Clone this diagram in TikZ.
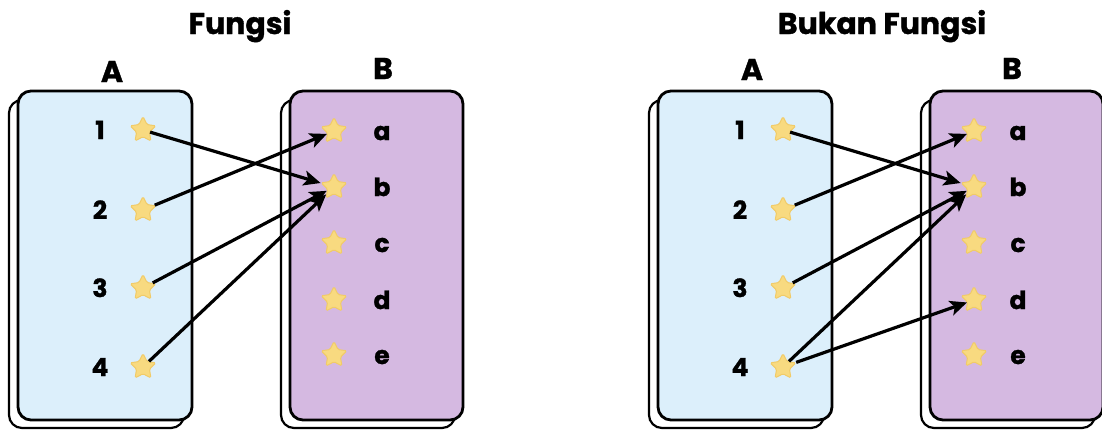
\documentclass[tikz,border=0pt]{standalone}
\usepackage{fontspec}
\setmainfont{Poppins}[BoldFont={* Bold},BoldFeatures={FakeBold=1.2}]
\usetikzlibrary{shapes.geometric,arrows.meta}
\definecolor{setA}{HTML}{DCEFFB}
\definecolor{setB}{HTML}{D5B9E1}
\definecolor{starfill}{HTML}{F8DA80}
\definecolor{staredge}{HTML}{F1CB68}
\tikzset{
  backbox/.style={draw=black,line width=2.2pt,fill=white,rounded corners=13pt},
  frontbox/.style={draw=black,line width=2.8pt,rounded corners=13pt},
  staritem/.style={star,star points=5,star point ratio=2.0,minimum size=27pt,inner sep=0pt,
    fill=starfill,draw=staredge,line width=1pt,rounded corners=1.5pt},
  itemlabel/.style={font=\bfseries\fontsize{25}{25}\selectfont,anchor=base,inner sep=0pt},
  setlabel/.style={font=\bfseries\fontsize{30}{30}\selectfont,anchor=base,inner sep=0pt},
  titlelabel/.style={font=\bfseries\fontsize{30}{30}\selectfont,anchor=base,inner sep=0pt},
  arr/.style={line width=3.2pt,-{Stealth[length=17pt,width=15pt,inset=4pt]}},
}
\begin{document}
\begin{tikzpicture}[x=1pt,y=-1pt]
\useasboundingbox (0,0) rectangle (1102,429);
\fill[white] (0,0) rectangle (1102,429);
\foreach \ox in {0,640}{
  \begin{scope}[xshift=\ox pt]
  \draw[backbox] (9,100) rectangle (184,428);
  \draw[frontbox,fill=setA] (18,91) rectangle (192,420);
  \draw[backbox] (281,100) rectangle (455,428);
  \draw[frontbox,fill=setB] (290,91) rectangle (463,420);
  \end{scope}
}
\node[titlelabel] (t1) at (240,34) {Fungsi};
\node[titlelabel] (t2) at (882,34) {Bukan Fungsi};
\node[setlabel] (lA) at (112,82) {A};
\node[setlabel] (lB) at (383,79) {B};
\node[setlabel] (rA) at (752,80) {A};
\node[setlabel] (rB) at (1012,79) {B};
% items of A
\foreach \i/\y in {1/130,2/210,3/288,4/367}{
  \node[staritem] (La\i) at (143,\y) {};
  \node[itemlabel] (Lna\i) at (100,\y+9) {\i};
  \node[staritem] (Ra\i) at (783,\y) {};
  \node[itemlabel] (Rna\i) at (740,\y+9) {\i};
}
% items of B
\foreach \l/\y in {a/131,b/187,c/243,d/300,e/355}{
  \node[staritem] (Lb\l) at (334,\y) {};
  \node[itemlabel] (Lnb\l) at (382,\y+9) {\l};
  \node[staritem] (Rb\l) at (974,\y) {};
  \node[itemlabel] (Rnb\l) at (1018,\y+9) {\l};
}
% arrows left
\draw[arr] (La1) -- (Lbb);
\draw[arr] (La2) -- (Lba);
\draw[arr] (La3) -- (Lbb);
\draw[arr] (La4) -- (Lbb);
% arrows right
\draw[arr] (Ra1) -- (Rbb);
\draw[arr] (Ra2) -- (Rba);
\draw[arr] (Ra3) -- (Rbb);
\draw[arr] (Ra4) -- (Rbb);
\draw[arr] (Ra4) -- (Rbd);
\end{tikzpicture}
\end{document}
